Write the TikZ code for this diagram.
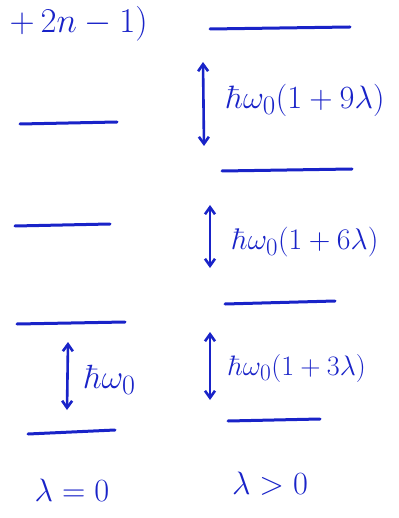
\documentclass[tikz,border=0pt]{standalone}
\usepackage{graphicx}
\usetikzlibrary{arrows.meta}
\definecolor{ink}{RGB}{25,35,200}
\newcommand{\hwtext}[2]{\scalebox{#1}{$#2$}}
\begin{document}
\begin{tikzpicture}[x=1pt,y=-1pt,
  level/.style={draw=ink,line width=3pt,line cap=round},
  gap/.style={draw=ink,line width=2.6pt,{Straight Barb[length=7pt,width=10pt]}-{Straight Barb[length=7pt,width=10pt]}},
  lab/.style={text=ink,inner sep=0pt,font=\fontsize{24.88}{30}\selectfont}]
\useasboundingbox (0,0) rectangle (398,518);
% top (cut) text
\node[lab,anchor=east] (top) at (148,24) {\hwtext{1.4}{+\,2n-1)}};
% left column levels
\coordinate (l1a) at (20,124); \coordinate (l1b) at (117,122);
\coordinate (l2a) at (15,226); \coordinate (l2b) at (110,224);
\coordinate (l3a) at (17,324); \coordinate (l3b) at (125,322);
\coordinate (l4a) at (28,434); \coordinate (l4b) at (115,430);
\draw[level] (l1a) -- (l1b);
\draw[level] (l2a) -- (l2b);
\draw[level] (l3a) -- (l3b);
\draw[level] (l4a) -- (l4b);
% right column levels
\coordinate (r1a) at (210,29); \coordinate (r1b) at (350,27);
\coordinate (r2a) at (222,171); \coordinate (r2b) at (352,169);
\coordinate (r3a) at (225,304); \coordinate (r3b) at (335,301);
\coordinate (r4a) at (228,421); \coordinate (r4b) at (320,419);
\draw[level] (r1a) -- (r1b);
\draw[level] (r2a) -- (r2b);
\draw[level] (r3a) -- (r3b);
\draw[level] (r4a) -- (r4b);
% gap arrows
\coordinate (g1t) at (203,62); \coordinate (g1b) at (204,146);
\coordinate (g2t) at (210,205); \coordinate (g2b) at (210,268);
\coordinate (g3t) at (210,332); \coordinate (g3b) at (210,400);
\coordinate (g0t) at (68,342); \coordinate (g0b) at (67,410);
\draw[gap] (g1t) -- (g1b);
\draw[gap] (g2t) -- (g2b);
\draw[gap] (g3t) -- (g3b);
\draw[gap] (g0t) -- (g0b);
% labels
\node[lab,anchor=west] (e9) at (226,100) {\hwtext{1.3}{\hbar\omega_0(1+9\lambda)}};
\node[lab,anchor=west] (e6) at (232,242) {\hwtext{1.2}{\hbar\omega_0(1+6\lambda)}};
\node[lab,anchor=west] (e3) at (228,368) {\hwtext{1.13}{\hbar\omega_0(1+3\lambda)}};
\node[lab,anchor=west] (e0) at (84,380) {\hwtext{1.35}{\hbar\omega_0}};
\node[lab] (c0) at (72,490) {\hwtext{1.3}{\lambda=0}};
\node[lab] (c1) at (270,484) {\hwtext{1.3}{\lambda>0}};
\end{tikzpicture}
\end{document}
